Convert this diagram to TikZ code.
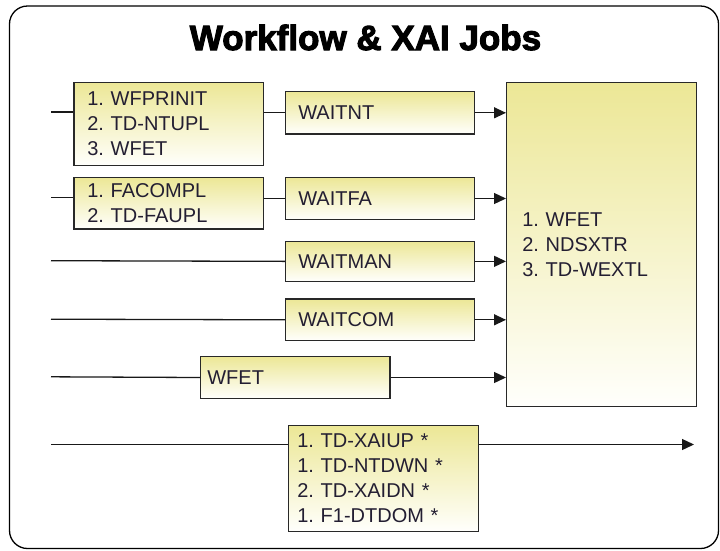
\documentclass[tikz,border=0pt]{standalone}
\usepackage{fontspec}
\setmainfont{Liberation Sans}
\newfontfamily\titlefont{Liberation Sans}[BoldFeatures={FakeBold=3}]
\usetikzlibrary{arrows.meta,shadings}
\definecolor{jobtop}{RGB}{236,231,150}
\definecolor{jobbot}{RGB}{255,255,252}
\definecolor{edge}{RGB}{40,40,40}
\definecolor{ink}{RGB}{35,30,50}
\frenchspacing
\tikzset{
  job/.style={draw=edge, line width=1.3pt, top color=jobtop, bottom color=jobbot,
    anchor=north west, align=left, text=ink, inner ysep=0pt,
    font=\frenchspacing\fontsize{20}{25}\selectfont},
  link/.style={draw=black!90, line width=1.3pt},
  arr/.style={link, -{Triangle[length=12pt,width=11pt]}},
}
\begin{document}
\begin{tikzpicture}[x=1pt,y=-1pt]
\useasboundingbox (0,0) rectangle (720,550);
% outer frame
\draw[line width=1.3pt, rounded corners=18pt] (9.5,6) rectangle (718.5,548.5);
% title
\node[anchor=base, font=\titlefont\bfseries\fontsize{35}{40}\selectfont] (title) at (365.5,50) {Workflow \& XAI Jobs};
% boxes
\node[job, inner xsep=13.4pt, text width=162.6pt, minimum height=83.3pt] (b1) at (73.3,81.7)
  {1. WFPRINIT\\2. TD-NTUPL\\3. WFET};
\node[job, inner xsep=13.4pt, text width=162.6pt, minimum height=51.6pt] (b2) at (73.3,176.7)
  {1. FACOMPL\\2. TD-FAUPL};
\node[job, inner xsep=12.7pt, text width=163.6pt, minimum height=42.3pt] (wnt) at (285,91) {WAITNT};
\node[job, inner xsep=12.7pt, text width=163.6pt, minimum height=42.3pt] (wfa) at (285,176.7) {WAITFA};
\node[job, inner xsep=12.7pt, text width=163.6pt, minimum height=40pt] (wman) at (285,240.7) {WAITMAN};
\node[job, inner xsep=12.7pt, text width=163.6pt, minimum height=41.7pt] (wcom) at (285,298.3) {WAITCOM};
\node[job, inner xsep=6.7pt, text width=175.9pt, minimum height=41.7pt] (wfet) at (200,356) {WFET};
\node[job, inner xsep=15.7pt, text width=158.3pt, minimum height=324pt] (big) at (506,81.7)
  {1. WFET\\2. NDSXTR\\3. TD-WEXTL};
\node[job, inner xsep=8.7pt, text width=172.6pt, minimum height=105.7pt] (xai) at (288,425)
  {1. TD-XAIUP *\\1. TD-NTDWN *\\2. TD-XAIDN *\\1. F1-DTDOM *};
% free ends
\coordinate (s1) at (51,112);
\coordinate (s2) at (51,197.8);
\coordinate (s3) at (51,260.7);
\coordinate (s4) at (51,319.2);
\coordinate (s5) at (51,376.8);
\coordinate (s6) at (51,444.5);
\coordinate (e6) at (694,444.5);
% row 1
\draw[link] (s1) -- (s1 -| b1.west);
\draw[link] (wnt.west -| b1.east) -- (wnt.west);
\draw[arr] (wnt.east) -- (wnt.east -| big.west);
% row 2
\draw[link] (s2) -- (s2 -| b2.west);
\draw[link] (wfa.west -| b2.east) -- (wfa.west);
\draw[arr] (wfa.east) -- (wfa.east -| big.west);
% row 3
\draw[link] (s3) -- (wman.west);
\draw[arr] (wman.east) -- (wman.east -| big.west);
% row 4
\draw[link] (s4) -- (wcom.west);
\draw[arr] (wcom.east) -- (wcom.east -| big.west);
% row 5
\draw[link] (s5) -- (wfet.west);
\draw[arr] (wfet.east) -- (wfet.east -| big.west);
% row 6
\draw[link] (s6) -- (s6 -| xai.west);
\draw[arr] (s6 -| xai.east) -- (e6);
\end{tikzpicture}
\end{document}
